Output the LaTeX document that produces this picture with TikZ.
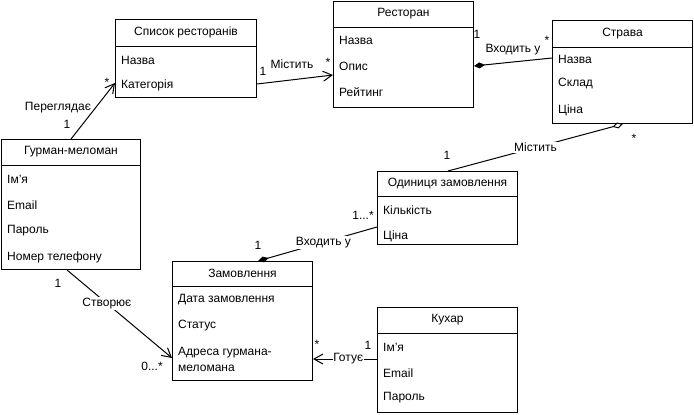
\documentclass[tikz,border=0pt]{standalone}
\usepackage{fontspec}
\setmainfont{Liberation Sans}
\usetikzlibrary{arrows.meta,calc}
\tikzset{
  cls/.style={draw, line width=1pt, rectangle, inner sep=0pt, anchor=north west},
  ttl/.style={font=\fontsize{12}{14}\selectfont, inner sep=0pt},
  attr/.style={font=\fontsize{12}{14}\selectfont, anchor=west, inner sep=0pt},
  lbl/.style={font=\fontsize{12}{14}\selectfont, inner sep=1pt},
  lblw/.style={lbl, fill=white},
  conn/.style={line width=1pt},
  openarr/.style={conn, -{Straight Barb[length=9pt,width=10pt]}},
  comp/.style={conn, {Diamond[length=11pt,width=6pt,fill=black]}-},
  aggr/.style={conn, {Diamond[length=11pt,width=6pt,open]}-},
}
\newcommand{\clsbox}[7]{%
  \node[cls, minimum width=#4pt, minimum height=#5pt] (#1) at (#2,#3) {};
  \draw[conn] ($(#1.north west)+(0,#6)$) -- ($(#1.north east)+(0,#6)$);
  \node[ttl] (#1-t) at ($(#1.north)+(0,#6/2)$) {#7};
}
\begin{document}
\begin{tikzpicture}[x=1pt,y=-1pt]
\useasboundingbox (0,0) rectangle (694,415);

% classes
\clsbox{spysok}{115}{19}{141}{78}{27}{Список ресторанів}
\node[attr] (spysok-a1) at ($(spysok.north west)+(6,41)$) {Назва};
\node[attr] (spysok-a2) at ($(spysok.north west)+(6,66)$) {Категорія};

\clsbox{restoran}{333}{1}{140}{106}{26}{Ресторан}
\node[attr] (restoran-a1) at ($(restoran.north west)+(6,39)$) {Назва};
\node[attr] (restoran-a2) at ($(restoran.north west)+(6,65)$) {Опис};
\node[attr] (restoran-a3) at ($(restoran.north west)+(6,91)$) {Рейтинг};

\clsbox{strava}{552}{20}{140}{103}{27}{Страва}
\node[attr] (strava-a1) at ($(strava.north west)+(6,39)$) {Назва};
\node[attr] (strava-a2) at ($(strava.north west)+(6,64)$) {Склад};
\node[attr] (strava-a3) at ($(strava.north west)+(6,90)$) {Ціна};

\clsbox{gurman}{1}{139}{139}{130}{26}{Гурман-меломан}
\node[attr] (gurman-a1) at ($(gurman.north west)+(6,40)$) {Ім'я};
\node[attr] (gurman-a2) at ($(gurman.north west)+(6,66)$) {Email};
\node[attr] (gurman-a3) at ($(gurman.north west)+(6,92)$) {Пароль};
\node[attr] (gurman-a4) at ($(gurman.north west)+(6,118)$) {Номер телефону};

\clsbox{odyn}{377}{171}{140}{73}{25}{Одиниця замовлення}
\node[attr] (odyn-a1) at ($(odyn.north west)+(6,39)$) {Кількість};
\node[attr] (odyn-a2) at ($(odyn.north west)+(6,65)$) {Ціна};

\clsbox{zamov}{172}{261}{140}{119}{25}{Замовлення}
\node[attr] (zamov-a1) at ($(zamov.north west)+(6,39)$) {Дата замовлення};
\node[attr] (zamov-a2) at ($(zamov.north west)+(6,65)$) {Статус};
\node[attr, align=left, font=\fontsize{12}{16}\selectfont] (zamov-a3) at ($(zamov.north west)+(6,98)$) {Адреса гурмана-\\меломана};

\clsbox{kukhar}{377}{307}{140}{105}{26}{Кухар}
\node[attr] (kukhar-a1) at ($(kukhar.north west)+(6,40)$) {Ім'я};
\node[attr] (kukhar-a2) at ($(kukhar.north west)+(6,66)$) {Email};
\node[attr] (kukhar-a3) at ($(kukhar.north west)+(6,91)$) {Пароль};

% connectors
\draw[openarr] ($(gurman.north west)+(70,0)$) -- ($(spysok.north west)+(0,64)$);
\node[lbl] (l-pere) at (58,108) {Переглядає};
\node[lbl] (l-pere1) at (67,124) {1};
\node[lbl] (l-perest) at (107,82) {*};

\draw[openarr] ($(spysok.north east)+(0,65)$) -- ($(restoran.north west)+(0,74)$);
\node[lbl] (l-mis) at (292,64) {Містить};
\node[lbl] (l-mis1) at (263,71) {1};
\node[lbl] (l-misst) at (328,62) {*};

\draw[comp] ($(restoran.north east)+(0,65)$) -- ($(strava.north west)+(0,38)$);
\node[lbl] (l-vkh) at (513,50) {Входить у};
\node[lbl] (l-vkh1) at (477,34) {1};
\node[lbl] (l-vkhst) at (547,40) {*};

\draw[aggr] ($(strava.south west)+(71,0)$) -- ($(odyn.north west)+(71,0)$)
  node[lblw, pos=0.5] (l-mis2) {Містить};
\node[lbl] (l-mis21) at (447,155) {1};
\node[lbl] (l-mis2st) at (634,138) {*};

\draw[comp] ($(zamov.north west)+(86,0)$) -- ($(odyn.north west)+(0,56)$)
  node[lblw, pos=0.55] (l-vkh2) {Входить у};
\node[lbl] (l-vkh21) at (258,245) {1};
\node[lbl] (l-vkh2st) at (363,215) {1...*};

\draw[openarr] ($(gurman.south west)+(66,0)$) -- ($(zamov.north west)+(0,97)$)
  node[lblw, pos=0.38] (l-stv) {Створює};
\node[lbl] (l-stv1) at (58,283) {1};
\node[lbl] (l-stvst) at (152,366) {0...*};

\draw[openarr] ($(kukhar.north west)+(0,52)$) -- ($(zamov.north east)+(0,98)$)
  node[lblw, pos=0.45, inner sep=0.5pt] (l-got) {Готує};
\node[lbl] (l-got1) at (368,345) {1};
\node[lbl] (l-gotst) at (317,344) {*};
\end{tikzpicture}
\end{document}
